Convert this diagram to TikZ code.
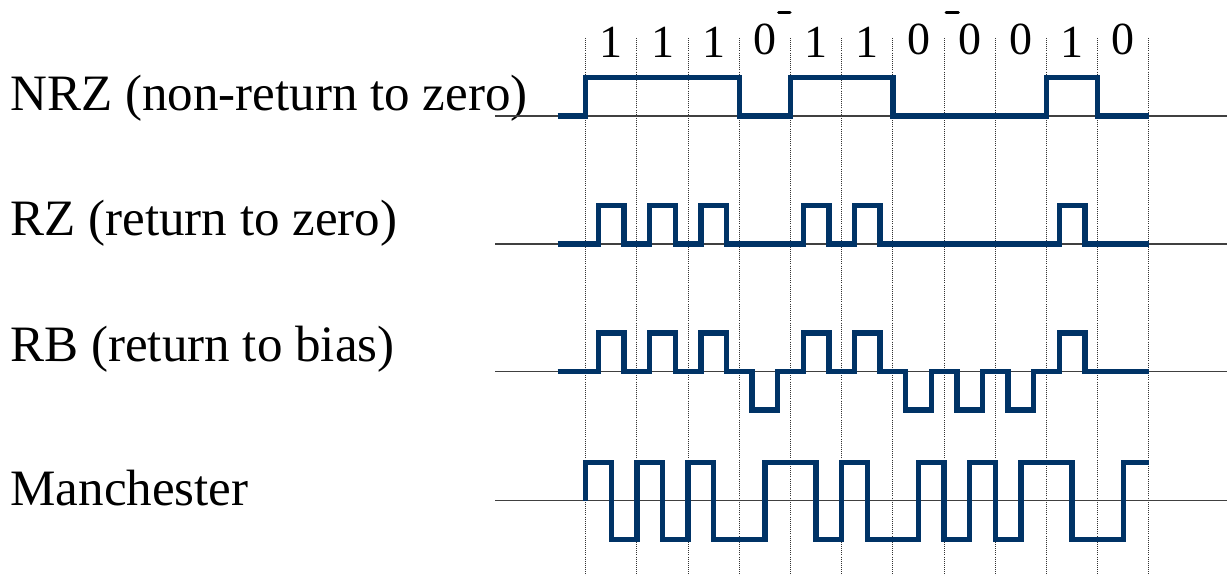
\documentclass[tikz,border=0pt]{standalone}
\usepackage{fontspec}
\setmainfont{Liberation Serif}
\definecolor{sigblue}{RGB}{0,51,102}
\tikzset{wave/.style={sigblue,line width=3.9pt},
  axisline/.style={black!75,line width=0.8pt},
  slotline/.style={black!80,line width=0.6pt,dash pattern=on 0.6pt off 0.9pt},
  codename/.style={anchor=base west,inner sep=0pt,font=\fontsize{36.3}{40}\selectfont},
  bitval/.style={anchor=base,inner sep=0pt,font=\fontsize{32.7}{36}\selectfont}}

\begin{document}
\begin{tikzpicture}[x=1.28cm,y=0.9625cm]
  \useasboundingbox (-14.6425cm,2.9cm) rectangle (16.0325cm,-11.5cm);
  % bit slots
  \draw[slotline] (0,2.03) -- (0,-11.95);
  \draw[slotline] (1,2.03) -- (1,-11.95);
  \draw[slotline] (2,2.03) -- (2,-11.95);
  \draw[slotline] (3,2.03) -- (3,-11.95);
  \draw[slotline] (4,2.03) -- (4,-11.95);
  \draw[slotline] (5,2.03) -- (5,-11.95);
  \draw[slotline] (6,2.03) -- (6,-11.95);
  \draw[slotline] (7,2.03) -- (7,-11.95);
  \draw[slotline] (8,2.03) -- (8,-11.95);
  \draw[slotline] (9,2.03) -- (9,-11.95);
  \draw[slotline] (10,2.03) -- (10,-11.95);
  \draw[slotline] (11,2.03) -- (11,-11.95);
  \node[bitval] (b1)  at (0.5,1.53)  {1};
  \node[bitval] (b2)  at (1.5,1.53)  {1};
  \node[bitval] (b3)  at (2.5,1.53)  {1};
  \node[bitval] (b4)  at (3.5,1.6)   {0};
  \node[bitval] (b5)  at (4.5,1.53)  {1};
  \node[bitval] (b6)  at (5.5,1.53)  {1};
  \node[bitval] (b7)  at (6.5,1.6)   {0};
  \node[bitval] (b8)  at (7.5,1.6)   {0};
  \node[bitval] (b9)  at (8.5,1.6)   {0};
  \node[bitval] (b10) at (9.5,1.53)  {1};
  \node[bitval] (b11) at (10.5,1.6)  {0};
  \draw[black,line width=2.2pt,line cap=round] (3.77,2.68) -- (3.99,2.68);
  \draw[black,line width=2.2pt,line cap=round] (7.04,2.68) -- (7.28,2.68);
  % NRZ
  \begin{scope}
    \node[codename] (nrz) at (-11.24,0.13) {NRZ (non-return to zero)};
    \draw[axisline] (-1.77,0) -- (12.53,0);
    \draw[wave] (-0.55,0) -- (0,0) -- (0,1) -- (3,1) -- (3,0) -- (4,0) -- (4,1) -- (6,1)
      -- (6,0) -- (9,0) -- (9,1) -- (10,1) -- (10,0) -- (11,0);
  \end{scope}
  % RZ
  \begin{scope}[yshift=-3.2cm]
    \node[codename] (rz) at (-11.24,0.23) {RZ (return to zero)};
    \draw[axisline] (-1.77,0) -- (12.53,0);
    \draw[wave] (-0.55,0) -- (0.25,0) -- (0.25,1) -- (0.75,1) -- (0.75,0) -- (1.25,0)
      -- (1.25,1) -- (1.75,1) -- (1.75,0) -- (2.25,0) -- (2.25,1) -- (2.75,1) -- (2.75,0)
      -- (4.25,0) -- (4.25,1) -- (4.75,1) -- (4.75,0) -- (5.25,0) -- (5.25,1) -- (5.75,1)
      -- (5.75,0) -- (9.25,0) -- (9.25,1) -- (9.75,1) -- (9.75,0) -- (11,0);
  \end{scope}
  % RB
  \begin{scope}[yshift=-6.39cm]
    \node[codename] (rb) at (-11.24,0.25) {RB (return to bias)};
    \draw[axisline] (-1.77,0) -- (12.53,0);
    \draw[wave] (-0.55,0) -- (0.25,0) -- (0.25,1) -- (0.75,1) -- (0.75,0) -- (1.25,0)
      -- (1.25,1) -- (1.75,1) -- (1.75,0) -- (2.25,0) -- (2.25,1) -- (2.75,1) -- (2.75,0)
      -- (3.25,0) -- (3.25,-1) -- (3.75,-1) -- (3.75,0)
      -- (4.25,0) -- (4.25,1) -- (4.75,1) -- (4.75,0) -- (5.25,0) -- (5.25,1) -- (5.75,1)
      -- (5.75,0) -- (6.25,0) -- (6.25,-1) -- (6.75,-1) -- (6.75,0) -- (7.25,0) -- (7.25,-1)
      -- (7.75,-1) -- (7.75,0) -- (8.25,0) -- (8.25,-1) -- (8.75,-1) -- (8.75,0)
      -- (9.25,0) -- (9.25,1) -- (9.75,1) -- (9.75,0) -- (11,0);
  \end{scope}
  % Manchester
  \begin{scope}[yshift=-9.62cm]
    \node[codename] (man) at (-11.24,-0.11) {Manchester};
    \draw[axisline] (-1.77,0) -- (12.53,0);
    \draw[wave] (0,0) -- (0,1) -- (0.5,1) -- (0.5,-1) -- (1,-1) -- (1,1) -- (1.5,1)
      -- (1.5,-1) -- (2,-1) -- (2,1) -- (2.5,1) -- (2.5,-1) -- (3.5,-1) -- (3.5,1)
      -- (4.5,1) -- (4.5,-1) -- (5,-1) -- (5,1) -- (5.5,1) -- (5.5,-1) -- (6.5,-1)
      -- (6.5,1) -- (7,1) -- (7,-1) -- (7.5,-1) -- (7.5,1) -- (8,1) -- (8,-1) -- (8.5,-1)
      -- (8.5,1) -- (9.5,1) -- (9.5,-1) -- (10.5,-1) -- (10.5,1) -- (11,1);
  \end{scope}
\end{tikzpicture}
\end{document}
